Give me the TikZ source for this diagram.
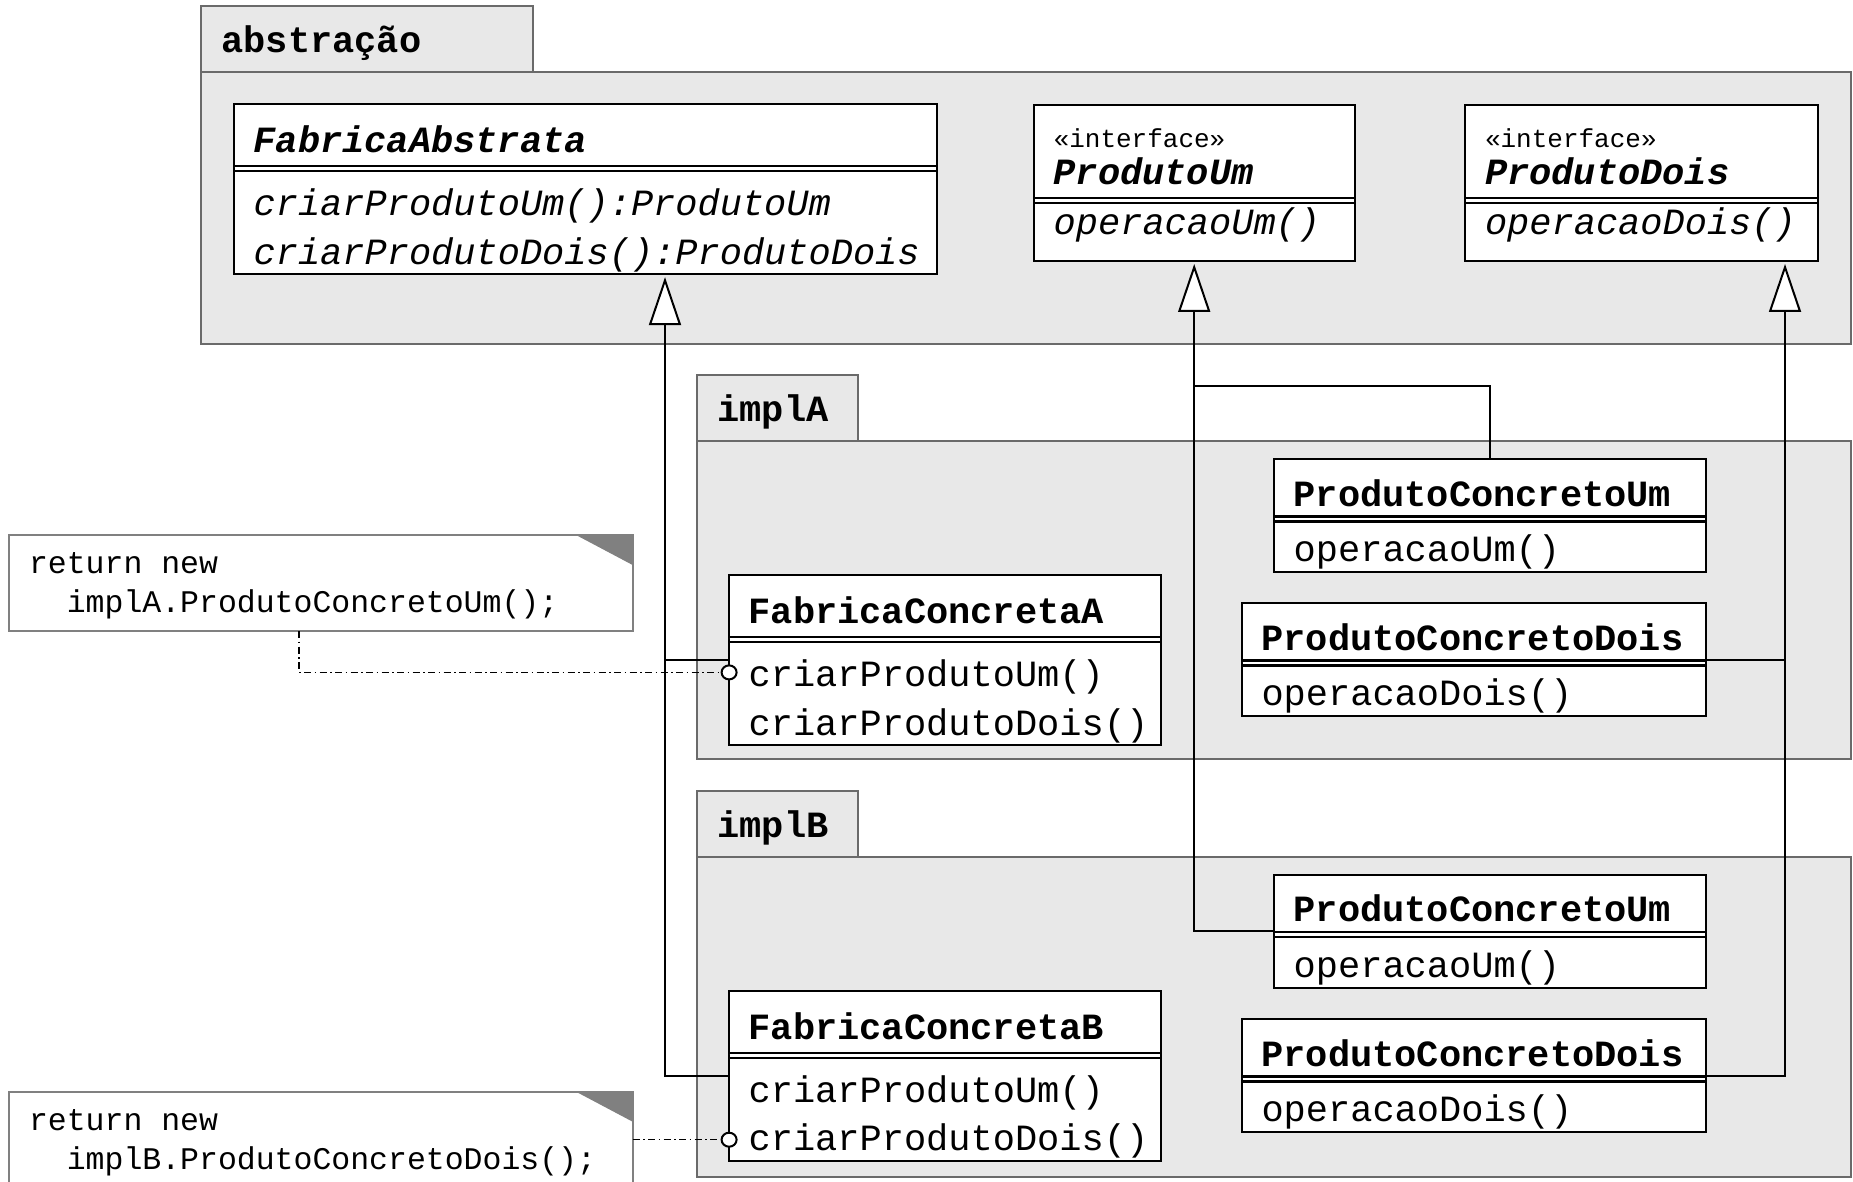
\documentclass[tikz,border=0pt]{standalone}
\usepackage{fontspec}
\newfontfamily\umlmono{Liberation Mono}
\usetikzlibrary{arrows.meta, positioning, fit, calc}

\definecolor{pkgfill}{HTML}{E8E8E8}
\definecolor{pkgline}{HTML}{6A6A6A}
\definecolor{notegray}{HTML}{808080}

\newcommand\clsfont{\umlmono\fontsize{18.5}{24.4}\selectfont}
\newcommand\stereofont{\fontsize{13}{15.6}\selectfont}
\newcommand\notefont{\umlmono\fontsize{15.75}{19.5}\selectfont}
\hyphenpenalty=10000
\exhyphenpenalty=10000

\begin{document}
\begin{tikzpicture}[
  x=0.5pt, y=-0.5pt,
  pkgtab/.style={draw=pkgline, fill=pkgfill, line width=1pt, outer sep=0pt, anchor=north west,
                 inner xsep=10.25pt, inner ysep=0pt, text height=23.3pt, text depth=9.7pt,
                 align=left, font=\clsfont\bfseries},
  pkgbody/.style={draw=pkgline, fill=pkgfill, line width=1pt, outer sep=0pt,
                  anchor=north west, inner sep=0pt},
  note/.style={draw=notegray, fill=white, line width=1pt, outer sep=0pt, anchor=north west,
               inner xsep=10.15pt, inner ysep=0pt, text height=19.3pt, text depth=28.7pt,
               align=left, font=\notefont, execute at begin node={\spaceskip=9.45pt\relax}},
  ear/.style={fill=notegray},
  cls/.style={draw, fill=white, line width=1pt, outer sep=0pt, inner xsep=10pt, inner ysep=0pt,
              align=left, font=\clsfont},
  facname/.style={cls, anchor=north west, text height=24.2pt, text depth=8.2pt, font=\clsfont\bfseries},
  facops/.style={cls, text height=23.3pt, text depth=29.4pt},
  prodname/.style={cls, anchor=north west, text height=23.4pt, text depth=6.4pt, font=\clsfont\bfseries},
  prodops/.style={cls, text height=21.3pt, text depth=5.2pt},
  ifname/.style={cls, anchor=north west, text height=21.3pt, text depth=26.6pt},
  ifops/.style={cls, text height=17pt, text depth=13.25pt, font=\clsfont\itshape},
  whole/.style={inner sep=0pt, outer sep=0pt},
  sep/.style={double=white, double distance=1.4pt, line width=1.1pt, shorten <=0.5pt, shorten >=0.5pt},
  gen/.style={line width=1pt, -{Triangle[fill=white, length=24pt, width=16pt]}, shorten >=1.5pt},
  link/.style={line width=1pt},
  noteline/.style={line width=0.75pt, dash pattern=on 3.5pt off 1.75pt on 0.75pt off 1.75pt,
                   -{Circle[fill=white, line width=1pt, length=8.5pt, width=8pt]}}
]
\useasboundingbox (0,0) rectangle (1853,1182);
\clip (0,0) rectangle (1853,1182);

% packages
\node[pkgtab, text width=145.5pt] (abstTab) at (201,6) {abstração};
\node[pkgbody, minimum width=825pt, minimum height=136pt] (abst) at (abstTab.south west) {};
\node[pkgtab, text width=60pt] (implATab) at (697,374.7) {implA};
\node[pkgbody, minimum width=577pt, minimum height=159pt] (implA) at (implATab.south west) {};
\node[pkgtab, text width=60pt] (implBTab) at (697,790.7) {implB};
\node[pkgbody, minimum width=577pt, minimum height=160pt] (implB) at (implBTab.south west) {};

% notes
\node[note, text width=291.65pt] (noteA) at (8.7,535) {return new\\\phantom{xx}implA.ProdutoConcretoUm();};
\fill[ear] (noteA.north east) -- ++(-56.6,0) -- ++(56.6,30) -- cycle;
\node[note, text width=291.65pt] (noteB) at (8.7,1091.7) {return new\\\phantom{xx}implB.ProdutoConcretoDois();};
\fill[ear] (noteB.north east) -- ++(-56.6,0) -- ++(56.6,30) -- cycle;

% abstracao
\node[facname, text width=331.5pt, font=\clsfont\bfseries\itshape] (fabAbsN) at (233.6,104) {FabricaAbstrata};
\node[facops, text width=331.5pt, font=\clsfont\itshape, below=0pt of fabAbsN] (fabAbsO)
  {criarProdutoUm():ProdutoUm\\criarProdutoDois():ProdutoDois};
\node[whole, fit=(fabAbsN)(fabAbsO)] (fabAbs) {};

\node[ifname, text width=140.5pt] (pUmN) at (1033.7,104.7)
  {{\stereofont «interface»}\\[-5.55pt]\textbf{\textit{ProdutoUm}}};
\node[ifops, text width=140.5pt, below=0pt of pUmN] (pUmO) {operacaoUm()};
\node[whole, fit=(pUmN)(pUmO)] (pUm) {};

\node[ifname, text width=156.35pt] (pDoisN) at (1465,104.7)
  {{\stereofont «interface»}\\[-5.55pt]\textbf{\textit{ProdutoDois}}};
\node[ifops, text width=156.35pt, below=0pt of pDoisN] (pDoisO) {operacaoDois()};
\node[whole, fit=(pDoisN)(pDoisO)] (pDois) {};

% implA
\node[prodname, text width=196pt] (pcUmAN) at (1273.7,459.3) {ProdutoConcretoUm};
\node[prodops, text width=196pt, below=0pt of pcUmAN] (pcUmAO) {operacaoUm()};
\node[whole, fit=(pcUmAN)(pcUmAO)] (pcUmA) {};

\node[prodname, text width=212.15pt] (pcDoisAN) at (1241.5,603.3) {ProdutoConcretoDois};
\node[prodops, text width=212.15pt, below=0pt of pcDoisAN] (pcDoisAO) {operacaoDois()};
\node[whole, fit=(pcDoisAN)(pcDoisAO)] (pcDoisA) {};

\node[facname, text width=196.4pt] (fcAN) at (728.6,575) {FabricaConcretaA};
\node[facops, text width=196.4pt, below=0pt of fcAN] (fcAO) {criarProdutoUm()\\criarProdutoDois()};
\node[whole, fit=(fcAN)(fcAO)] (fcA) {};

% implB
\node[prodname, text width=196pt] (pcUmBN) at (1273.7,875) {ProdutoConcretoUm};
\node[prodops, text width=196pt, below=0pt of pcUmBN] (pcUmBO) {operacaoUm()};
\node[whole, fit=(pcUmBN)(pcUmBO)] (pcUmB) {};

\node[prodname, text width=212.15pt] (pcDoisBN) at (1241.5,1019.3) {ProdutoConcretoDois};
\node[prodops, text width=212.15pt, below=0pt of pcDoisBN] (pcDoisBO) {operacaoDois()};
\node[whole, fit=(pcDoisBN)(pcDoisBO)] (pcDoisB) {};

\node[facname, text width=196.4pt] (fcBN) at (728.6,990.7) {FabricaConcretaB};
\node[facops, text width=196.4pt, below=0pt of fcBN] (fcBO) {criarProdutoUm()\\criarProdutoDois()};
\node[whole, fit=(fcBN)(fcBO)] (fcB) {};

% double lines under the class names
\draw[sep] (fabAbsN.south west) -- (fabAbsN.south east);
\draw[sep] (pUmN.south west) -- (pUmN.south east);
\draw[sep] (pDoisN.south west) -- (pDoisN.south east);
\draw[sep] (pcUmAN.south west) -- (pcUmAN.south east);
\draw[sep] (pcDoisAN.south west) -- (pcDoisAN.south east);
\draw[sep] (fcAN.south west) -- (fcAN.south east);
\draw[sep] (pcUmBN.south west) -- (pcUmBN.south east);
\draw[sep] (pcDoisBN.south west) -- (pcDoisBN.south east);
\draw[sep] (fcBN.south west) -- (fcBN.south east);

% generalizations
\coordinate (faTip) at ($(fabAbs.south west)+(431.4,0)$);
\coordinate (pdTip) at ($(pDois.south west)+(320,0)$);
\draw[gen] (fcB.west) -| (faTip);
\draw[link] (fcA.west) -- (fcA.west -| faTip);
\draw[gen] (pcUmB.west) -| (pUm.south);
\draw[link] (pcUmA.north) |- ($(pUm.south)+(0,124.7)$);
\draw[gen] (pcDoisB.east) -| (pdTip);
\draw[link] (pcDoisA.east) -- (pcDoisA.east -| pdTip);

% note anchors
\draw[noteline] ($(noteA.south west)+(290.3,0)$) |- ($(fcAO.base west)+(9,-14)$);
\draw[noteline] (noteB.east) -- ($(noteB.east -| fcBO.west)+(9,0)$);

\end{tikzpicture}
\end{document}
